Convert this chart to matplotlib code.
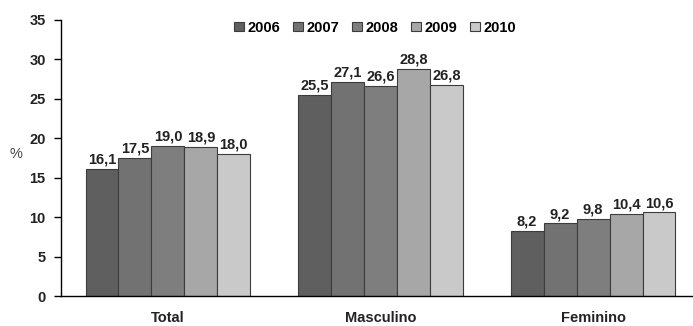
import matplotlib
matplotlib.use("Agg")
import matplotlib.pyplot as plt
import numpy as np

categories = ["Total", "Masculino", "Feminino"]
years = ["2006", "2007", "2008", "2009", "2010"]
values = {
    "2006": [16.1, 25.5, 8.2],
    "2007": [17.5, 27.1, 9.2],
    "2008": [19.0, 26.6, 9.8],
    "2009": [18.9, 28.8, 10.4],
    "2010": [18.0, 26.8, 10.6],
}
colors = ["#5f5f5f", "#727272", "#7e7e7e", "#a7a7a7", "#c9c9c9"]

plt.rcParams['font.family'] = ['Liberation Sans', 'DejaVu Sans']
fig = plt.figure(figsize=(6.93, 3.26), dpi=100)
ax = fig.add_axes([0.088, 0.092, 0.912, 0.847])

x = np.arange(len(categories))
w = 0.155
for i, y in enumerate(years):
    xs = x + (i - 2) * w
    ax.bar(xs, values[y], width=w, color=colors[i], edgecolor="#3c3c3c",
           linewidth=0.8, label=y)
    for xi, v in zip(xs, values[y]):
        ax.text(xi, v + 0.3, f"{v:.1f}".replace(".", ","), ha="center", va="bottom",
                fontsize=10.5, fontweight="bold", color="#222222")

ax.set_xlim(-0.503, 2.47)
ax.set_ylim(0, 35)
ax.set_yticks(range(0, 36, 5))
ax.set_xticks(x)
ax.set_xticklabels(categories, fontsize=10.5, fontweight="bold", color="#222222")
for lab in ax.get_yticklabels():
    lab.set_fontweight("bold")
    lab.set_fontsize(10.5)
    lab.set_color("#222222")
ax.tick_params(axis="x", length=0, pad=10.5)
ax.tick_params(axis="y", length=5, width=1, direction="out", pad=6)
ax.spines["top"].set_visible(False)
ax.spines["right"].set_visible(False)
ax.spines["left"].set_linewidth(1)
ax.spines["bottom"].set_linewidth(1)
ax.set_ylabel("%", rotation=0, fontsize=10.5, color="#444444")
ax.yaxis.set_label_coords(-0.072, 0.49)

leg = ax.legend(loc="upper center", bbox_to_anchor=(0.497, 1.045), ncol=5, frameon=False,
                handlelength=0.65, handleheight=0.65, handletextpad=0.25, columnspacing=0.9,
                prop={"weight": "bold", "size": 10.5})

fig.savefig("out.png", dpi=100)
